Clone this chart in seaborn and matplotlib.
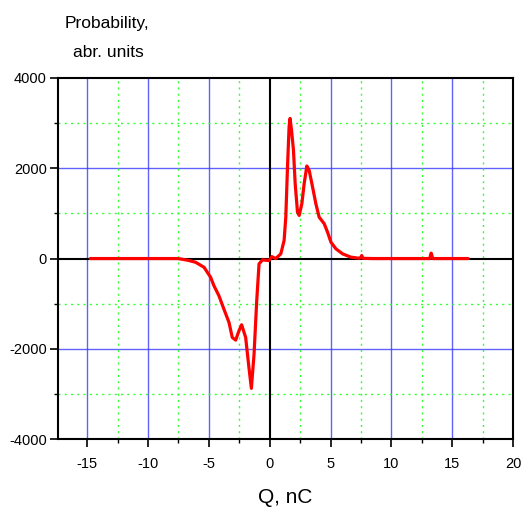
import matplotlib
matplotlib.use("Agg")
import matplotlib.pyplot as plt
import seaborn as sns
import numpy as np
import pandas as pd
from matplotlib.ticker import MultipleLocator, FuncFormatter

# Data (Q in nC, probability in abr. units)
q = [-14.75, -12.0, -9.0, -7.6, -7.3, -6.7, -6.1, -5.4, -4.86, -4.59, -4.18, -3.77,
     -3.35, -3.08, -2.80, -2.53, -2.31, -1.98, -1.71, -1.51, -1.29, -1.07, -0.88,
     -0.60, -0.06, 0.16, 0.49, 0.91, 1.18, 1.32, 1.46, 1.59, 1.67, 1.79, 1.95, 2.09,
     2.28, 2.42, 2.64, 2.83, 3.05, 3.24, 3.52, 3.79, 4.06, 4.48, 4.75, 5.03, 5.44,
     5.99, 6.68, 7.36, 7.50, 7.56, 7.65, 8.5, 10.0, 12.0, 13.15, 13.27, 13.40, 14.5, 16.3]
prob = [0, 0, 0, 0, -10, -40, -82, -193, -415, -600, -822, -1118,
        -1415, -1748, -1807, -1600, -1467, -1748, -2415, -2875, -2118, -933, -118,
        -30, -44, 44, 0, 104, 400, 918, 2030, 2918, 3104, 2844, 2400, 1660,
        1030, 955, 1215, 1660, 2050, 1955, 1585, 1215, 918, 770, 585, 363, 215,
        104, 30, 7, 30, 67, 5, 0, 0, 0, 0, 120, 0, 0, 0]

x_major = [-15, -10, -5, 0, 5, 10, 15, 20]
y_major = [-4000, -2000, 0, 2000, 4000]

df = pd.DataFrame({"Q": q, "P": prob})

sns.set_style("white")
plt.rcParams['font.family'] = ['Liberation Sans', 'DejaVu Sans']
plt.rcParams['text.color'] = 'black'
plt.rcParams['axes.labelcolor'] = 'black'
plt.rcParams['xtick.color'] = 'black'
plt.rcParams['ytick.color'] = 'black'

fig = plt.figure(figsize=(5.23, 5.13), dpi=100)
ax = fig.add_axes([0.111, 0.144, 0.870, 0.704])

ax.set_xlim(-17.4, 20)
ax.set_ylim(-4000, 4000)

# grid lines
for xv in [-15, -10, -5, 5, 10, 15]:
    ax.axvline(xv, color='#3a3aff', lw=1.0, alpha=0.8, zorder=1)
for yv in [-2000, 2000]:
    ax.axhline(yv, color='#3a3aff', lw=1.0, alpha=0.8, zorder=1)
for xv in [-17.5, -12.5, -7.5, -2.5, 2.5, 7.5, 12.5, 17.5]:
    ax.axvline(xv, color='#33ff33', lw=1.0, ls=(0, (1.5, 3)), zorder=1)
for yv in [-3000, -1000, 1000, 3000]:
    ax.axhline(yv, color='#33ff33', lw=1.0, ls=(0, (1.5, 3)), zorder=1)
ax.axvline(0, color='black', lw=1.5, zorder=2)
ax.axhline(0, color='black', lw=1.5, zorder=2)

sns.lineplot(data=df, x="Q", y="P", color='#ff0000', lw=2.3, ax=ax, zorder=3)

ax.set_xticks(x_major)
ax.set_yticks(y_major)
ax.xaxis.set_minor_locator(MultipleLocator(2.5))
ax.yaxis.set_minor_locator(MultipleLocator(1000))
fmt = FuncFormatter(lambda v, p: ("%d" % v))
ax.xaxis.set_major_formatter(fmt)
ax.yaxis.set_major_formatter(fmt)
ax.tick_params(axis='both', which='both', bottom=True, left=True, top=False, right=False)
ax.tick_params(axis='both', which='major', direction='out', length=6, width=1.2,
               labelsize=10.5, pad=2, color='black', labelcolor='black')
ax.tick_params(axis='both', which='minor', direction='out', length=3, width=1.0, color='black')
ax.tick_params(axis='x', which='major', pad=7)

for s in ax.spines.values():
    s.set_linewidth(1.5)
    s.set_color('black')

ax.set_xlabel("Q, nC", fontsize=15, labelpad=12, color='black')
ax.set_ylabel("")
fig.text(0.205, 0.955, "Probability,", fontsize=12.5, ha='center', va='center', color='black')
fig.text(0.208, 0.898, "abr. units", fontsize=12.5, ha='center', va='center', color='black')

fig.savefig("out.png", dpi=100, facecolor='white')
